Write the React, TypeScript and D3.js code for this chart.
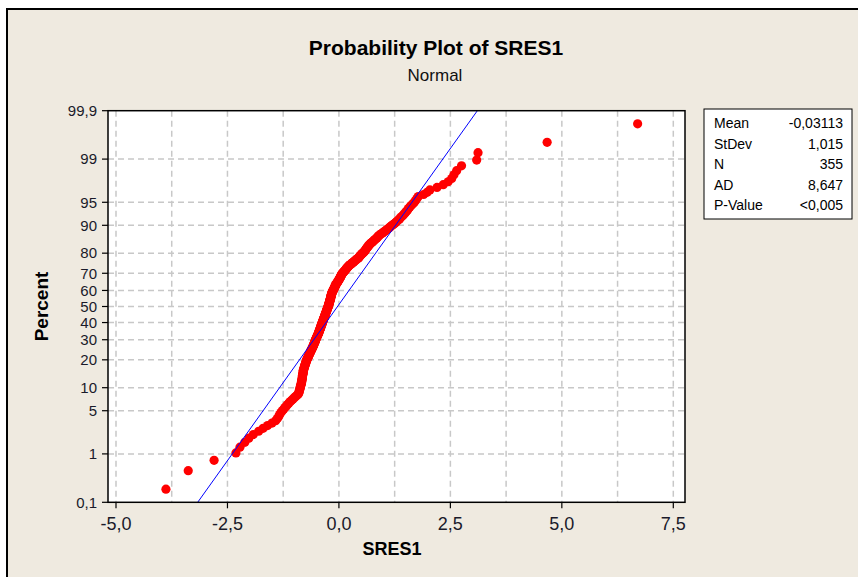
import React from "react";
import * as d3 from "d3";

// sorted standardized residuals (rank order)
const sres1 = [
  -3.88, -3.38, -2.80, -2.31,
  -2.22, -2.11, -2.02, -1.92,
  -1.80, -1.70, -1.60, -1.50, -1.42,
  -1.38, -1.35, -1.33, -1.30, -1.27, -1.24, -1.21,
  -1.18, -1.15, -1.12, -1.09, -1.06,
  -1.03, -1.00, -0.97, -0.94, -0.91,
  -0.90, -0.89, -0.89, -0.88, -0.87, -0.87, -0.86, -0.86, -0.85, -0.84,
  -0.84, -0.84, -0.83, -0.83, -0.83, -0.82, -0.82, -0.82, -0.82, -0.81, -0.81, -0.81, -0.80, -0.80, -0.80, -0.80,
  -0.79, -0.79, -0.78, -0.78, -0.77, -0.77, -0.76, -0.76, -0.75, -0.75, -0.74, -0.74, -0.73, -0.73, -0.72, -0.72, -0.71, -0.70, -0.70, -0.69,
  -0.68, -0.68, -0.67, -0.67, -0.66, -0.65, -0.65, -0.64, -0.64, -0.63, -0.62, -0.62, -0.61, -0.61, -0.60, -0.59, -0.59, -0.58,
  -0.58, -0.57, -0.57, -0.56, -0.56, -0.55, -0.55, -0.54, -0.54, -0.53, -0.53, -0.53, -0.52, -0.52, -0.51, -0.51, -0.50, -0.50, -0.49, -0.49, -0.48, -0.48, -0.47, -0.47, -0.46, -0.46,
  -0.45, -0.45, -0.45, -0.44, -0.44, -0.43, -0.43, -0.43, -0.42, -0.42, -0.41, -0.41, -0.41, -0.40, -0.40, -0.40, -0.39, -0.39, -0.38, -0.38, -0.38, -0.37, -0.37, -0.37, -0.36, -0.36, -0.35, -0.35,
  -0.35, -0.34, -0.34, -0.34, -0.33, -0.33, -0.32, -0.32, -0.32, -0.31, -0.31, -0.31, -0.30, -0.30, -0.30, -0.29, -0.29, -0.28, -0.28, -0.28, -0.27, -0.27, -0.27, -0.26, -0.26, -0.26, -0.25, -0.25, -0.24, -0.24,
  -0.24, -0.23, -0.23, -0.23, -0.23, -0.22, -0.22, -0.22, -0.21, -0.21, -0.21, -0.21, -0.20, -0.20, -0.20, -0.19, -0.19, -0.19, -0.19, -0.18, -0.18, -0.18, -0.18, -0.17, -0.17, -0.17, -0.17, -0.16, -0.16, -0.16,
  -0.15, -0.15, -0.14, -0.14, -0.13, -0.13, -0.12, -0.12, -0.11, -0.11, -0.10, -0.10, -0.09, -0.09, -0.08, -0.08, -0.07, -0.07, -0.06, -0.06, -0.05,
  -0.04, -0.03, -0.03, -0.02, -0.01, -0.01, 0.00, 0.01, 0.01, 0.02, 0.03, 0.03, 0.04, 0.04, 0.05, 0.05, 0.06, 0.07, 0.07, 0.08,
  0.09, 0.10, 0.11, 0.12, 0.13, 0.14, 0.15, 0.16, 0.17, 0.18, 0.19, 0.20, 0.21, 0.22, 0.23, 0.25,
  0.27, 0.28, 0.30, 0.31, 0.33, 0.34, 0.36, 0.37, 0.39, 0.40, 0.42,
  0.44, 0.45, 0.46, 0.47, 0.48, 0.50, 0.51, 0.52, 0.54, 0.55, 0.57,
  0.58, 0.59, 0.60, 0.61, 0.62, 0.63, 0.64, 0.66, 0.67, 0.68, 0.70, 0.71,
  0.73, 0.75, 0.77, 0.79, 0.81, 0.83, 0.85, 0.86, 0.88, 0.90, 0.92,
  0.95, 0.98, 1.00, 1.03, 1.06, 1.08, 1.11, 1.14, 1.16, 1.19, 1.22,
  1.25, 1.28, 1.30, 1.33, 1.36, 1.38, 1.41, 1.44,
  1.46, 1.49, 1.51, 1.54, 1.56, 1.59,
  1.62, 1.66, 1.69, 1.72, 1.75, 1.78,
  1.90, 1.98, 2.04,
  2.20, 2.34, 2.45, 2.53, 2.58, 2.64, 2.75,
  3.09, 3.12, 4.67, 6.70,
];

const yTickPercents = [0.1, 1, 5, 10, 20, 30, 40, 50, 60, 70, 80, 90, 95, 99, 99.9];
const yGridPercents = [1, 5, 10, 20, 30, 40, 50, 60, 70, 80, 90, 95, 99];
const xTicks = [-5, -2.5, 0, 2.5, 5, 7.5];
const xGrid = [-5, -3.75, -2.5, -1.25, 0, 1.25, 2.5, 3.75, 5, 6.25, 7.5];

const statLabels = ["Mean", "StDev", "N", "AD", "P-Value"];
const statValues = ["-0,03113", "1,015", "355", "8,647", "<0,005"];
const fitMean = -0.03113;
const fitStDev = 1.015;

const W = 858;
const H = 577;
const FONT = "'Liberation Sans', Arial, sans-serif";

// inverse normal cdf (Acklam)
function probit(p: number) {
  const a = [-3.969683028665376e1, 2.209460984245205e2, -2.759285104469687e2, 1.38357751867269e2, -3.066479806614716e1, 2.506628277459239];
  const b = [-5.447609879822406e1, 1.615858368580409e2, -1.556989798598866e2, 6.680131188771972e1, -1.328068155288572e1];
  const c = [-7.784894002430293e-3, -3.223964580411365e-1, -2.400758277161838, -2.549732539343734, 4.374664141464968, 2.938163982698783];
  const d = [7.784695709041462e-3, 3.224671290700398e-1, 2.445134137142996, 3.754408661907416];
  const pl = 0.02425;
  if (p < pl) {
    const q = Math.sqrt(-2 * Math.log(p));
    return (((((c[0] * q + c[1]) * q + c[2]) * q + c[3]) * q + c[4]) * q + c[5]) / ((((d[0] * q + d[1]) * q + d[2]) * q + d[3]) * q + 1);
  }
  if (p <= 1 - pl) {
    const q = p - 0.5, r = q * q;
    return ((((((a[0] * r + a[1]) * r + a[2]) * r + a[3]) * r + a[4]) * r + a[5]) * q) / (((((b[0] * r + b[1]) * r + b[2]) * r + b[3]) * r + b[4]) * r + 1);
  }
  const q = Math.sqrt(-2 * Math.log(1 - p));
  return -(((((c[0] * q + c[1]) * q + c[2]) * q + c[3]) * q + c[4]) * q + c[5]) / ((((d[0] * q + d[1]) * q + d[2]) * q + d[3]) * q + 1);
}

const locale = d3.formatLocale({ decimal: ",", thousands: ".", grouping: [3], currency: ["", ""], minus: "-" });
const fmtX = locale.format(".1f");
const fmtY = locale.format("~g");

export default function App() {
  const left = 108, right = 685, top = 110.7, bottom = 502.3;

  const x = d3.scaleLinear().domain([-5, 7.5]).range([116, 673.3]);
  const y = d3.scaleLinear().domain([probit(0.001), probit(0.999)]).range([bottom, top]);
  const yp = (pct: number) => y(probit(pct / 100));

  const n = sres1.length;
  // median-rank plotting positions
  const pts = sres1.map((v, i) => ({ v, z: probit((i + 1 - 0.3) / (n + 0.4)) }));

  const zLo = probit(0.001), zHi = probit(0.999);
  const fitLine = d3.line<number>()
    .x(z => x(fitMean + fitStDev * z))
    .y(z => y(z));

  return (
    <svg width={W} height={H} style={{ position: "absolute", left: 0, top: 0, fontFamily: FONT }}>
      <rect x={0} y={0} width={W} height={H} fill="#fff" />
      <rect x={7} y={9} width={W + 10} height={H + 10} fill="#EFEAE0" stroke="#000" strokeWidth={2} />

      <text x={436} y={55} textAnchor="middle" fontSize={21} fontWeight="bold" fill="#000">
        Probability Plot of SRES1
      </text>
      <text x={435} y={81} textAnchor="middle" fontSize={17} fill="#111">
        Normal
      </text>

      <defs>
        <clipPath id="plotClip">
          <rect x={left} y={top} width={right - left} height={bottom - top} />
        </clipPath>
      </defs>

      <rect x={left} y={top} width={right - left} height={bottom - top} fill="#fff" />

      <g stroke="#C8C8C8" strokeWidth={1.5} strokeDasharray="6,4">
        {xGrid.map(g => (
          <line key={"gx" + g} x1={x(g)} x2={x(g)} y1={top} y2={bottom} />
        ))}
        {yGridPercents.map(g => (
          <line key={"gy" + g} x1={left} x2={right} y1={yp(g)} y2={yp(g)} />
        ))}
      </g>

      <g>
        {pts.map((d, i) => (
          <circle key={i} cx={x(d.v)} cy={y(d.z)} r={4.6} fill="#FF0000" />
        ))}
      </g>

      <path
        d={fitLine([zLo, zHi]) || ""}
        fill="none"
        stroke="#0000FF"
        strokeWidth={1}
        clipPath="url(#plotClip)"
      />

      <rect x={left} y={top} width={right - left} height={bottom - top} fill="none" stroke="#000" strokeWidth={1.5} />

      <g fontSize={15} fill="#1a1a2a">
        {yTickPercents.map(t => (
          <g key={"yt" + t}>
            <line x1={left - 6} x2={left} y1={yp(t)} y2={yp(t)} stroke="#000" strokeWidth={1.2} />
            <text x={97} y={yp(t)} dy="0.35em" textAnchor="end">{fmtY(t)}</text>
          </g>
        ))}
      </g>

      <g fontSize={18} fill="#1a1a2a">
        {xTicks.map(t => (
          <g key={"xt" + t}>
            <line x1={x(t)} x2={x(t)} y1={bottom} y2={bottom + 6} stroke="#000" strokeWidth={1.2} />
            <text x={x(t)} y={530} textAnchor="middle">{fmtX(t)}</text>
          </g>
        ))}
      </g>

      <text x={392} y={555} textAnchor="middle" fontSize={18} fontWeight="bold" fill="#000">SRES1</text>
      <text
        transform={`translate(48, ${(top + bottom) / 2}) rotate(-90)`}
        textAnchor="middle"
        fontSize={19}
        fontWeight="bold"
        fill="#000"
      >
        Percent
      </text>

      <rect x={704} y={109} width={148} height={110} fill="#fff" stroke="#000" strokeWidth={1} />
      <g fontSize={14} fill="#000">
        {statLabels.map((s, i) => (
          <g key={s}>
            <text x={714} y={123.3 + i * 20.5} dy="0.35em">{s}</text>
            <text x={843} y={123.3 + i * 20.5} dy="0.35em" textAnchor="end">{statValues[i]}</text>
          </g>
        ))}
      </g>
    </svg>
  );
}
